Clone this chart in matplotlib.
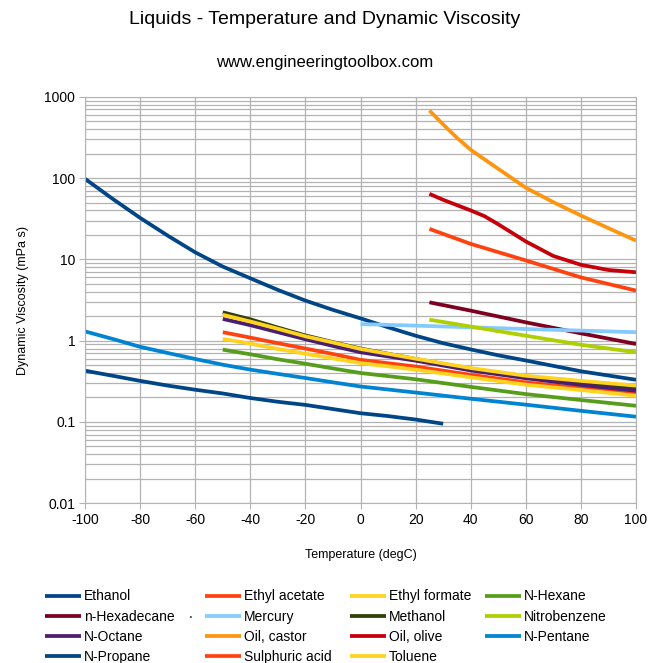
import numpy as np
import matplotlib.pyplot as plt

plt.rcParams['font.family'] = ['Liberation Sans', 'DejaVu Sans']
plt.rcParams['axes.unicode_minus'] = False

# Temperatures (degC) and dynamic viscosities (mPa s)
t_ethanol = [-100, -90, -80, -70, -60, -50, -40, -30, -20, -10, 0, 10, 20, 30, 40, 50, 60, 80, 100]
v_ethanol = [98, 55.6, 32.4, 19.6, 12.2, 8.15, 5.85, 4.21, 3.11, 2.39, 1.88, 1.46, 1.15, 0.93, 0.78, 0.66, 0.57, 0.42, 0.33]

t_group = [-50, -40, -30, -20, -10, 0, 20, 40, 60, 80, 100]
v_ethyl_acetate = [1.27, 1.09, 0.93, 0.80, 0.685, 0.58, 0.48, 0.38, 0.307, 0.26, 0.224]
v_ethyl_formate = [1.05, 0.92, 0.79, 0.69, 0.605, 0.53, 0.44, 0.354, 0.287, 0.247, 0.21]
v_hexane = [0.775, 0.68, 0.59, 0.52, 0.455, 0.40, 0.335, 0.27, 0.22, 0.186, 0.158]
v_methanol = [2.23, 1.83, 1.45, 1.16, 0.96, 0.80, 0.595, 0.45, 0.36, 0.30, 0.254]
v_octane = [1.85, 1.55, 1.27, 1.04, 0.86, 0.72, 0.567, 0.43, 0.345, 0.285, 0.242]
v_toluene = [2.08, 1.72, 1.40, 1.13, 0.95, 0.79, 0.60, 0.46, 0.37, 0.32, 0.28]

t_hot = [25, 40, 60, 80, 100]
v_hexadecane = [2.96, 2.34, 1.68, 1.23, 0.91]
v_nitrobenzene = [1.81, 1.49, 1.15, 0.89, 0.72]
v_sulphuric = [23.7, 15.5, 9.7, 6.0, 4.13]

t_mercury = [0, 20, 40, 60, 80, 100]
v_mercury = [1.60, 1.53, 1.46, 1.39, 1.33, 1.27]

t_castor = [25, 30, 35, 40, 45, 50, 60, 70, 80, 90, 100]
v_castor = [677, 457, 313, 223, 170, 130, 76, 50.5, 34.6, 24.2, 17]

t_olive = [25, 30, 40, 45, 50, 55, 60, 70, 80, 90, 100]
v_olive = [64, 54, 40, 34, 27, 21.2, 16.6, 11.0, 8.57, 7.4, 6.94]

t_pentane = [-100, -90, -80, -70, -60, -50, -40, -30, -20, -10, 0, 20, 40, 60, 80, 100]
v_pentane = [1.30, 1.05, 0.84, 0.705, 0.595, 0.506, 0.44, 0.39, 0.347, 0.307, 0.273, 0.23, 0.193, 0.163, 0.137, 0.116]

t_propane = [-100, -90, -80, -70, -60, -50, -40, -30, -20, -10, 0, 10, 20, 30]
v_propane = [0.427, 0.37, 0.32, 0.28, 0.249, 0.224, 0.197, 0.177, 0.162, 0.144, 0.128, 0.118, 0.107, 0.095]

series = [
    ('Ethanol', t_ethanol, v_ethanol, '#004586'),
    ('Ethyl acetate', t_group, v_ethyl_acetate, '#ff420e'),
    ('Ethyl formate', t_group, v_ethyl_formate, '#ffd320'),
    ('N-Hexane', t_group, v_hexane, '#579d1c'),
    ('n-Hexadecane', t_hot, v_hexadecane, '#7e0021'),
    ('Mercury', t_mercury, v_mercury, '#83caff'),
    ('Methanol', t_group, v_methanol, '#314004'),
    ('Nitrobenzene', t_hot, v_nitrobenzene, '#aecf00'),
    ('N-Octane', t_group, v_octane, '#4b1f6f'),
    ('Oil, castor', t_castor, v_castor, '#ff950e'),
    ('Oil, olive', t_olive, v_olive, '#c5000b'),
    ('N-Pentane', t_pentane, v_pentane, '#0084d1'),
    ('N-Propane', t_propane, v_propane, '#004586'),
    ('Sulphuric acid', t_hot, v_sulphuric, '#ff420e'),
    ('Toluene', t_group, v_toluene, '#ffd320'),
]

fig = plt.figure(figsize=(6.49, 6.63), dpi=100)
ax = fig.add_axes([0.131, 0.241, 0.849, 0.613])

handles = []
for name, t, v, col in series:
    h, = ax.plot(t, v, color=col, lw=2.7, label=name, solid_capstyle='butt',
                 solid_joinstyle='round')
    handles.append(h)

ax.set_yscale('log')
ax.set_xlim(-100, 100)
ax.set_ylim(0.01, 1000)
ax.set_xticks(np.arange(-100, 101, 20))
ax.set_yticks([0.01, 0.1, 1, 10, 100, 1000])
ax.set_yticklabels(['0.01', '0.1', '1', '10', '100', '1000'])
ax.grid(True, which='major', color='#b3b3b3', lw=0.9)
ax.grid(True, which='minor', axis='y', color='#b3b3b3', lw=0.9)
ax.set_axisbelow(True)
for s in ax.spines.values():
    s.set_color('#b3b3b3')
ax.tick_params(which='major', direction='out', length=4, color='#b3b3b3', labelsize=10, pad=3)
ax.tick_params(which='minor', length=0)

ax.set_xlabel('Temperature (degC)', fontsize=9, labelpad=16)
ax.set_ylabel('Dynamic Viscosity (mPa s)', fontsize=9, labelpad=11)

fig.text(0.5, 0.971, 'Liquids - Temperature and Dynamic Viscosity', ha='center', va='center', fontsize=14)
fig.text(0.5, 0.906, 'www.engineeringtoolbox.com', ha='center', va='center', fontsize=12)

# legend: four columns, each placed on its own
col_x = [0.069, 0.316, 0.539, 0.747]
for c in range(4):
    idx = list(range(c, len(series), 4))
    fig.legend([handles[i] for i in idx], [series[i][0] for i in idx],
               loc='upper left', bbox_to_anchor=(col_x[c], 0.111), frameon=False,
               fontsize=10, handlelength=2.6, handletextpad=0.2,
               labelspacing=0.45, borderpad=0, borderaxespad=0)
fig.text(0.293, 0.074, '.', fontsize=10, ha='center', va='center')

fig.savefig('out.png', dpi=100)
